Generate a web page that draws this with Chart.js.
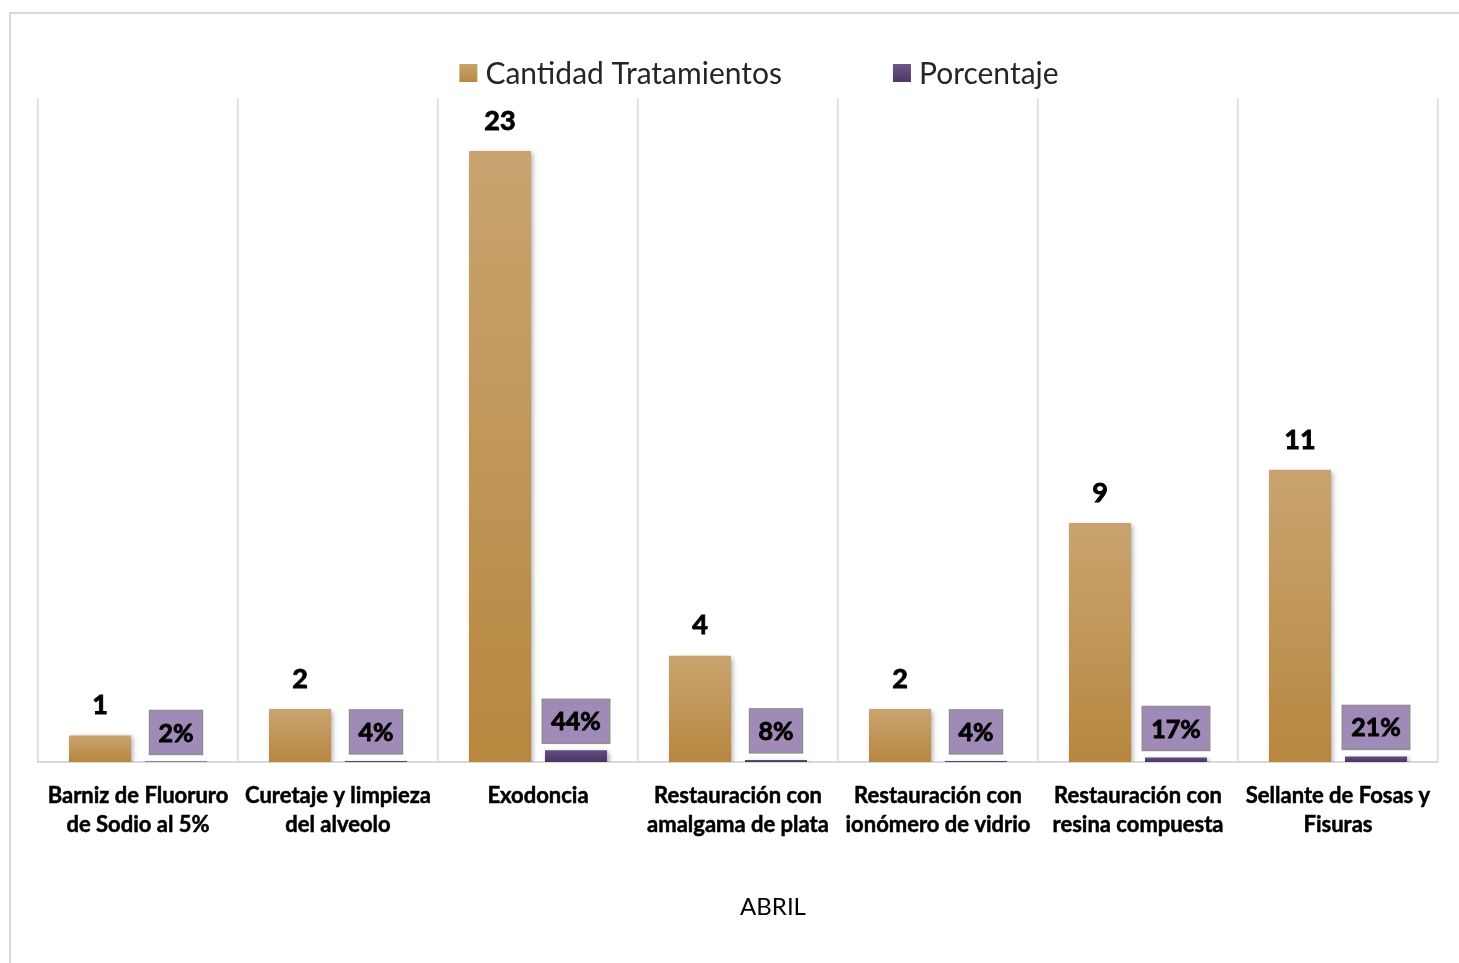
<!DOCTYPE html>
<html lang="es">
<head>
<meta charset="utf-8">
<title>Tratamientos ABRIL</title>
<script src="https://cdn.jsdelivr.net/npm/chart.js@4.4.1/dist/chart.umd.min.js"></script>
<style>
  html, body { margin: 0; padding: 0; background: #ffffff; overflow: hidden; }
  #frame {
    position: absolute; left: 9px; top: 12px; width: 1600px; height: 1100px;
    border: 2px solid #d9d9d9; box-sizing: border-box;
  }
  #wrap { position: absolute; left: 0; top: 0; width: 1459px; height: 963px; }
</style>
</head>
<body>
<div id="frame"></div>
<div id="wrap"><canvas id="chart" width="1459" height="963"></canvas></div>
<script>
// Categorías del eje X (cada una partida en líneas)
const categories = [
  ['Barniz de Fluoruro', 'de Sodio al 5%'],
  ['Curetaje y limpieza', 'del alveolo'],
  'Exodoncia',
  ['Restauración con', 'amalgama de plata'],
  ['Restauración con', 'ionómero de vidrio'],
  ['Restauración con', 'resina compuesta'],
  ['Sellante de Fosas y', 'Fisuras']
];
const cantidad = [1, 2, 23, 4, 2, 9, 11];
const porcentaje = [0.02, 0.04, 0.44, 0.08, 0.04, 0.17, 0.21];
const seriesNames = ['Cantidad Tratamientos', 'Porcentaje'];
const axisTitle = 'ABRIL';

const FONT = 'Lato, "Open Sans", sans-serif';

// Degradado vertical por barra, de la parte alta a la base
function barFill(topColor, bottomColor) {
  return (c) => {
    const chart = c.chart;
    const y = chart.scales && chart.scales.y;
    if (!y || c.type !== 'data') return bottomColor;
    const top = y.getPixelForValue(c.raw);
    const base = y.getPixelForValue(0);
    if (!isFinite(top) || !isFinite(base) || base - top < 1) return bottomColor;
    const g = chart.ctx.createLinearGradient(0, top, 0, base);
    g.addColorStop(0, topColor);
    g.addColorStop(1, bottomColor);
    return g;
  };
}

// Sombra suave bajo las barras
const barShadow = {
  id: 'barShadow',
  beforeDatasetsDraw(chart) {
    const ctx = chart.ctx;
    ctx.save();
    ctx.shadowColor = 'rgba(0,0,0,0.35)';
    ctx.shadowBlur = 5;
    ctx.shadowOffsetX = 2;
    ctx.shadowOffsetY = 2;
  },
  afterDatasetsDraw(chart) { chart.ctx.restore(); }
};

// Texto en negrita reforzada con un trazo fino
function boldText(ctx, txt, x, y) {
  ctx.fillText(txt, x, y);
  ctx.lineWidth = 0.9;
  ctx.strokeStyle = '#000000';
  ctx.strokeText(txt, x, y);
}

// Etiquetas de valor: número sobre la barra y porcentaje en recuadro
const valueLabels = {
  id: 'valueLabels',
  afterDatasetsDraw(chart) {
    const ctx = chart.ctx;
    ctx.save();
    ctx.textAlign = 'center';
    ctx.textBaseline = 'middle';
    chart.getDatasetMeta(0).data.forEach((bar, i) => {
      ctx.font = 'bold 27px ' + FONT;
      ctx.fillStyle = '#000000';
      boldText(ctx, String(cantidad[i]), bar.x, bar.y - 30);
    });
    chart.getDatasetMeta(1).data.forEach((bar, i) => {
      const txt = Math.round(porcentaje[i] * 100) + '%';
      ctx.font = 'bold 25px ' + FONT;
      const w = ctx.measureText(txt).width + 18;
      const h = 44;
      const bottom = bar.y - 7;
      ctx.fillStyle = '#a08ab8';
      ctx.fillRect(bar.x - w / 2, bottom - h, w, h);
      ctx.strokeStyle = '#8f8f8f';
      ctx.lineWidth = 1.5;
      ctx.strokeRect(bar.x - w / 2, bottom - h, w, h);
      ctx.fillStyle = '#000000';
      boldText(ctx, txt, bar.x, bottom - h / 2 + 1);
    });
    ctx.restore();
  }
};

// Leyenda superior y título del eje
const legendAndTitle = {
  id: 'legendAndTitle',
  afterDraw(chart) {
    const ctx = chart.ctx;
    const area = chart.chartArea;
    ctx.save();
    ctx.font = '30px ' + FONT;
    ctx.textBaseline = 'middle';
    ctx.textAlign = 'left';
    const box = 18, gap = 8, spacing = 111;
    const w1 = ctx.measureText(seriesNames[0]).width;
    const w2 = ctx.measureText(seriesNames[1]).width;
    const total = box + gap + w1 + spacing + box + gap + w2;
    const cx = (area.left + area.right) / 2 + 21;
    let x = cx - total / 2;
    const yMid = 73;
    const swatches = [['#c9a36c', '#b88944'], ['#6c5889', '#4e3768']];
    [w1, w2].forEach((w, k) => {
      const g = ctx.createLinearGradient(0, yMid - box / 2, 0, yMid + box / 2);
      g.addColorStop(0, swatches[k][0]);
      g.addColorStop(1, swatches[k][1]);
      ctx.fillStyle = g;
      ctx.fillRect(x, yMid - box / 2, box, box);
      ctx.fillStyle = '#262626';
      ctx.fillText(seriesNames[k], x + box + gap, yMid + 1);
      x += box + gap + w + spacing;
    });
    ctx.font = '24px ' + FONT;
    ctx.textAlign = 'center';
    ctx.fillStyle = '#000000';
    ctx.fillText(axisTitle, (area.left + area.right) / 2 + 35, 907);
    ctx.restore();
  }
};

new Chart(document.getElementById('chart'), {
  type: 'bar',
  data: {
    labels: categories,
    datasets: [
      {
        label: seriesNames[0],
        data: cantidad,
        backgroundColor: barFill('#c9a470', '#b7873f'),
        categoryPercentage: 0.76,
        barPercentage: 0.816
      },
      {
        label: seriesNames[1],
        data: porcentaje,
        backgroundColor: barFill('#634d80', '#4c3566'),
        categoryPercentage: 0.76,
        barPercentage: 0.816
      }
    ]
  },
  options: {
    responsive: false,
    animation: false,
    layout: { padding: { left: 38, right: 21, top: 98, bottom: 0 } },
    plugins: { legend: { display: false }, tooltip: { enabled: false } },
    scales: {
      x: {
        grid: { display: true, offset: true, color: '#d9d9d9', lineWidth: 1.5, drawTicks: false },
        border: { display: true, color: '#d9d9d9', width: 2 },
        ticks: {
          color: '#000000',
          padding: 19,
          maxRotation: 0,
          autoSkip: false,
          textStrokeColor: '#000000',
          textStrokeWidth: 0.5,
          font: { family: FONT, size: 22, weight: 'bold', lineHeight: 1.32 }
        },
        afterFit(scale) { scale.height = 963 - 762; }
      },
      y: { display: false, min: 0, max: 25 }
    }
  },
  plugins: [barShadow, valueLabels, legendAndTitle]
});
</script>
</body>
</html>
